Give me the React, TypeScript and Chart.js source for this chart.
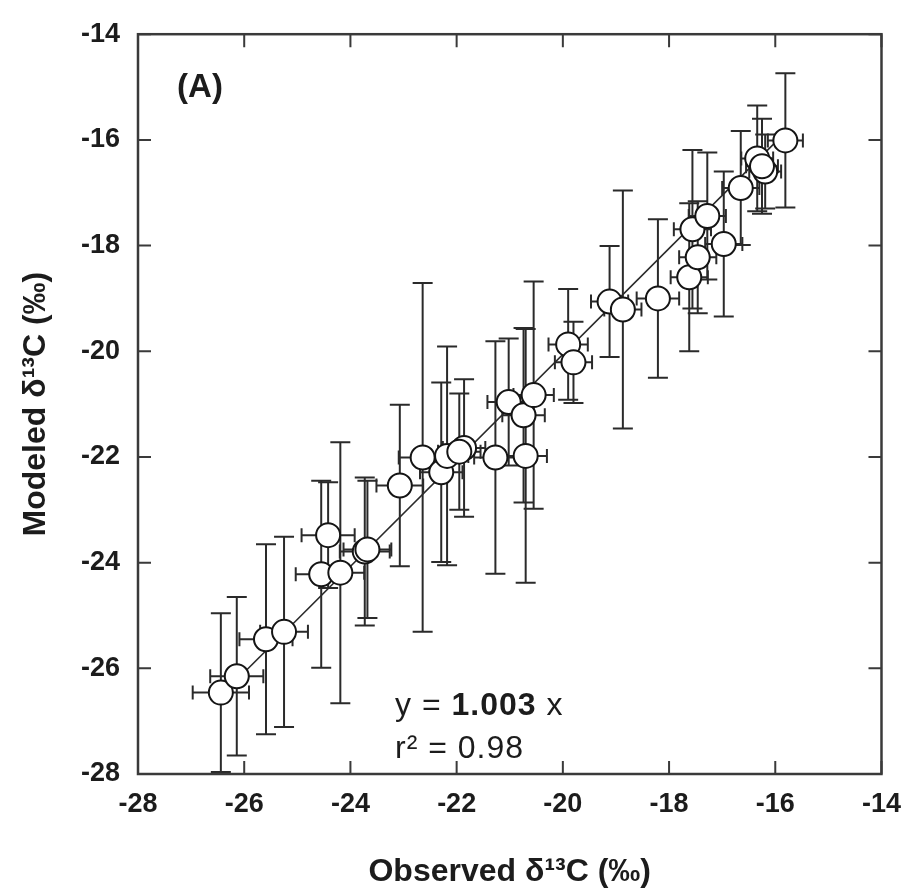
import React, { useEffect, useRef } from "react";
import { Chart, registerables } from "chart.js";

Chart.register(...registerables);

// Observed δ13C (x) and modeled δ13C (y), with their error half-widths
const obsX = [-26.44, -26.14, -25.59, -25.25, -24.55, -24.42, -24.19, -23.73, -23.68, -23.07, -22.64, -22.29, -22.18, -21.86, -21.95, -21.27, -21.02, -20.74, -20.70, -20.55, -19.90, -19.80, -19.12, -18.87, -18.21, -17.62, -17.46, -17.56, -17.28, -16.97, -16.65, -16.34, -16.19, -16.25, -15.81];
const modY = [-26.46, -26.15, -25.45, -25.31, -24.22, -23.48, -24.19, -23.79, -23.75, -22.54, -22.01, -22.29, -21.98, -21.83, -21.90, -22.01, -20.96, -21.21, -21.98, -20.83, -19.87, -20.21, -19.06, -19.21, -19.00, -18.60, -18.22, -17.69, -17.44, -17.97, -16.91, -16.35, -16.60, -16.50, -16.01];
const obsErr = [0.53, 0.5, 0.5, 0.45, 0.48, 0.5, 0.45, 0.47, 0.45, 0.44, 0.45, 0.4, 0.4, 0.4, 0.4, 0.4, 0.4, 0.4, 0.4, 0.38, 0.37, 0.35, 0.35, 0.35, 0.4, 0.35, 0.35, 0.35, 0.35, 0.35, 0.35, 0.3, 0.3, 0.3, 0.33];
const modErr = [1.5, 1.5, 1.8, 1.8, 1.77, 1.0, 2.47, 1.4, 1.3, 1.53, 3.3, 1.7, 2.07, 1.3, 1.1, 2.2, 1.2, 1.65, 2.4, 2.15, 1.05, 0.77, 1.05, 2.25, 1.5, 1.4, 1.06, 1.5, 1.2, 1.37, 1.08, 1.0, 0.7, 0.9, 1.27];

const fitSlope = 1.003;
const fitR2 = "0.98";
const axisMin = -28;
const axisMax = -14;
const axisStep = 2;
const tickValues = [-28, -26, -24, -22, -20, -18, -16, -14];

const FONT = "'Liberation Sans', Arial, Helvetica, sans-serif";
const INK = "#1c1c1c";

export default function App() {
  const ref = useRef<HTMLCanvasElement | null>(null);

  useEffect(() => {
    const canvas = ref.current;
    if (!canvas) return;

    const xMinData = Math.min(...obsX);
    const xMaxData = Math.max(...obsX);

    const errorBars = {
      id: "errorBars",
      beforeDatasetsDraw(chart: any) {
        const { ctx, chartArea, scales } = chart;
        const xs = scales.x, ys = scales.y;
        ctx.save();
        ctx.beginPath();
        ctx.rect(chartArea.left, chartArea.top, chartArea.right - chartArea.left, chartArea.bottom - chartArea.top);
        ctx.clip();
        ctx.strokeStyle = "#2a2a2a";
        ctx.lineWidth = 2;
        for (let i = 0; i < obsX.length; i++) {
          const px = xs.getPixelForValue(obsX[i]);
          const py = ys.getPixelForValue(modY[i]);
          const yt = ys.getPixelForValue(modY[i] + modErr[i]);
          const yb = ys.getPixelForValue(modY[i] - modErr[i]);
          const xl = xs.getPixelForValue(obsX[i] - obsErr[i]);
          const xr = xs.getPixelForValue(obsX[i] + obsErr[i]);
          ctx.beginPath();
          ctx.moveTo(px, yt); ctx.lineTo(px, yb);
          ctx.moveTo(px - 10, yt); ctx.lineTo(px + 10, yt);
          ctx.moveTo(px - 10, yb); ctx.lineTo(px + 10, yb);
          ctx.moveTo(xl, py); ctx.lineTo(xr, py);
          ctx.moveTo(xl, py - 7); ctx.lineTo(xl, py + 7);
          ctx.moveTo(xr, py - 7); ctx.lineTo(xr, py + 7);
          ctx.stroke();
        }
        ctx.restore();
      },
    };

    const frame = {
      id: "frame",
      afterDatasetsDraw(chart: any) {
        const { ctx, chartArea, scales } = chart;
        const { left, right, top, bottom } = chartArea;
        ctx.save();
        ctx.strokeStyle = "#3a3a3a";
        ctx.lineWidth = 2.5;
        ctx.strokeRect(left, top, right - left, bottom - top);
        ctx.lineWidth = 2;
        const tl = 13;
        ctx.beginPath();
        for (const v of tickValues) {
          const px = scales.x.getPixelForValue(v);
          const py = scales.y.getPixelForValue(v);
          ctx.moveTo(px, bottom); ctx.lineTo(px, bottom - tl);
          ctx.moveTo(px, top); ctx.lineTo(px, top + tl);
          ctx.moveTo(left, py); ctx.lineTo(left + tl, py);
          ctx.moveTo(right, py); ctx.lineTo(right - tl, py);
        }
        ctx.stroke();
        ctx.restore();
      },
      afterDraw(chart: any) {
        const { ctx, chartArea } = chart;
        ctx.save();
        ctx.fillStyle = INK;
        // panel label
        ctx.font = `bold 33px ${FONT}`;
        ctx.textAlign = "center";
        ctx.textBaseline = "alphabetic";
        ctx.fillText("(A)", chartArea.left + 62, chartArea.top + 63);
        // regression annotation
        ctx.textAlign = "left";
        (ctx as any).letterSpacing = "1px";
        let x = chartArea.left + 257;
        const y1 = chartArea.top + 681;
        const y2 = chartArea.top + 724;
        const parts: [string, boolean][] = [["y = ", false], ["1.003", true], [" x", false]];
        for (const [t, b] of parts) {
          ctx.font = `${b ? "bold " : ""}32px ${FONT}`;
          ctx.fillText(t, x, y1);
          x += ctx.measureText(t).width;
        }
        ctx.font = `32px ${FONT}`;
        ctx.fillText(`r² = ${fitR2}`, chartArea.left + 257, y2);
        (ctx as any).letterSpacing = "0px";
        ctx.restore();
      },
    };

    const chart = new Chart(canvas, {
      type: "scatter",
      data: {
        datasets: [
          {
            type: "scatter",
            label: "Data",
            data: obsX.map((v, i) => ({ x: v, y: modY[i] })),
            pointRadius: 12,
            pointHoverRadius: 12,
            pointBackgroundColor: "#ffffff",
            pointBorderColor: "#151515",
            pointBorderWidth: 2,
            showLine: false,
          },
          {
            type: "line",
            label: "Fit",
            data: [xMinData, xMaxData].map((v) => ({ x: v, y: fitSlope * v })),
            borderColor: "#2a2a2a",
            borderWidth: 1.6,
            pointRadius: 0,
            fill: false,
          },
        ],
      },
      options: {
        responsive: false,
        animation: false,
        layout: { padding: { left: 0, top: 24, right: 28, bottom: 0 } },
        plugins: { legend: { display: false }, tooltip: { enabled: false } },
        scales: {
          x: {
            type: "linear",
            min: axisMin,
            max: axisMax,
            ticks: { stepSize: axisStep, color: INK, padding: 14, font: { family: FONT, size: 27, weight: "bold" } },
            grid: { display: false, drawTicks: false },
            border: { display: false },
            title: { display: true, text: "Observed δ¹³C (‰)", color: INK, padding: { top: 0, bottom: 5 }, font: { family: FONT, size: 32, weight: "bold" } },
            afterFit: (s: any) => { s.height = 122; },
          },
          y: {
            type: "linear",
            min: axisMin,
            max: axisMax,
            ticks: { stepSize: axisStep, color: INK, padding: 18, font: { family: FONT, size: 27, weight: "bold" } },
            grid: { display: false, drawTicks: false },
            border: { display: false },
            title: { display: true, text: "Modeled δ¹³C (‰)", color: INK, padding: { top: 17, bottom: 0 }, font: { family: FONT, size: 32, weight: "bold" } },
            afterFit: (s: any) => { s.width = 138; },
          },
        },
      },
      plugins: [errorBars, frame],
    } as any);

    return () => chart.destroy();
  }, []);

  return (
    <div style={{ position: "absolute", left: 0, top: 0, width: 915, height: 896, background: "#fff" }}>
      <canvas ref={ref} width={915} height={896} />
    </div>
  );
}
